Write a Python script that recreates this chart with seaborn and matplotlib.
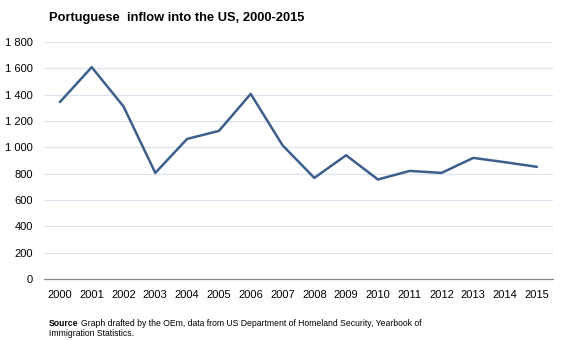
import matplotlib
matplotlib.use("Agg")
import matplotlib.pyplot as plt
import seaborn as sns
import pandas as pd

years = ["2000", "2001", "2002", "2003", "2004", "2005", "2006", "2007",
         "2008", "2009", "2010", "2011", "2012", "2013", "2014", "2015"]
inflow = [1345, 1610, 1312, 807, 1065, 1126, 1407, 1017,
          769, 941, 757, 822, 807, 921, 888, 853]
y_ticks = [0, 200, 400, 600, 800, 1000, 1200, 1400, 1600, 1800]

sns.set_style("white")
plt.rcParams["font.family"] = ["Liberation Sans", "DejaVu Sans"]
plt.rcParams["text.color"] = "black"

df = pd.DataFrame({"year": years, "inflow": inflow})
df["pos"] = range(len(years))

fig = plt.figure(figsize=(5.67, 3.40), dpi=100)
ax = fig.add_axes([0.0776, 0.179, 0.8974, 0.697])

sns.lineplot(data=df, x="pos", y="inflow", ax=ax, color="#3d5f8b",
             linewidth=1.8, zorder=3)

ax.set_xlim(-0.5, len(years) - 0.5)
ax.set_ylim(0, 1800)
ax.set_xticks(range(len(years)))
ax.set_xticklabels(years)
ax.set_yticks(y_ticks)
ax.set_yticklabels([f"{v:,}".replace(",", " ") for v in y_ticks])
ax.tick_params(axis="both", length=0, labelsize=8, colors="#000000")
ax.tick_params(axis="x", pad=8)
ax.tick_params(axis="y", pad=8)
ax.set_xlabel("")
ax.set_ylabel("")

for v in y_ticks[1:]:
    ax.axhline(v, color="#dce3ec", linewidth=0.9, zorder=1)
for s in ["top", "right", "left"]:
    ax.spines[s].set_visible(False)
ax.spines["bottom"].set_color("#8c8c8c")
ax.spines["bottom"].set_linewidth(0.9)

fig.text(49 / 567, 1 - 18 / 340, "Portuguese  inflow into the US, 2000-2015",
         fontsize=9.3, fontweight="bold", va="center", ha="left", color="black")

fig.text(49 / 567, 1 - 323 / 340, "Source", fontsize=6.2, fontweight="bold",
         va="center", ha="left", color="black")
fig.text(81 / 567, 1 - 323 / 340,
         "Graph drafted by the OEm, data from US Department of Homeland Security, Yearbook of",
         fontsize=6.2, va="center", ha="left", color="black")
fig.text(49 / 567, 1 - 333 / 340, "Immigration Statistics.",
         fontsize=6.2, va="center", ha="left", color="black")

fig.savefig("out.png", dpi=100)
